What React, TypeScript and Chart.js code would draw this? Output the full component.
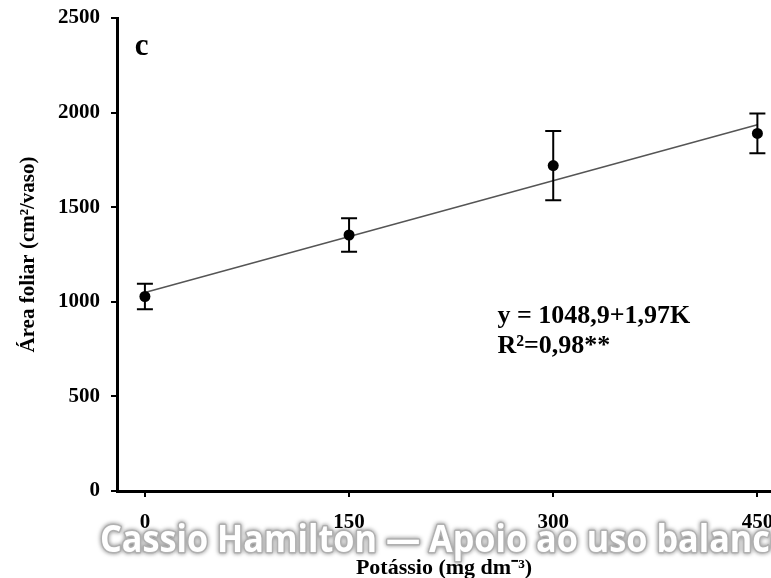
import React, { useEffect, useRef } from "react";
import { Chart, registerables } from "chart.js";

Chart.register(...registerables);

// ---- Data ----
const potassiumDoses = [0, 150, 300, 450];
const leafArea = [1028, 1353, 1720, 1890];
const leafAreaSd = [68, 88, 183, 105];
const xTickValues = [0, 150, 300, 450];
const yTickValues = [0, 500, 1000, 1500, 2000, 2500];
const regIntercept = 1048.9;
const regSlope = 1.97;

// ---- Texts ----
const equationText = "y = 1048,9+1,97K";
const r2Text = "R²=0,98**";
const panelLetter = "c";
const xTitle = "Potássio (mg dm⁻³)";
const yTitle = "Área foliar (cm²/vaso)";
const watermarkText = "Cassio Hamilton — Apoio ao uso balanceado de fertilizantes";

const SERIF = "'Liberation Serif', 'Times New Roman', serif";

const overlayPlugin = {
  id: "overlay",
  afterDatasetsDraw(chart: any) {
    const { ctx } = chart;
    const xs = chart.scales.x;
    const ys = chart.scales.y;
    ctx.save();
    ctx.strokeStyle = "#000";
    ctx.lineWidth = 2;
    potassiumDoses.forEach((d, i) => {
      const px = xs.getPixelForValue(d);
      const top = ys.getPixelForValue(leafArea[i] + leafAreaSd[i]);
      const bot = ys.getPixelForValue(leafArea[i] - leafAreaSd[i]);
      ctx.beginPath();
      ctx.moveTo(px, top);
      ctx.lineTo(px, bot);
      ctx.moveTo(px - 8, top);
      ctx.lineTo(px + 8, top);
      ctx.moveTo(px - 8, bot);
      ctx.lineTo(px + 8, bot);
      ctx.stroke();
    });
    ctx.restore();
  },
  afterDraw(chart: any) {
    const { ctx } = chart;
    const xs = chart.scales.x;
    const ys = chart.scales.y;
    ctx.save();
    ctx.fillStyle = "#000";
    ctx.textAlign = "left";
    ctx.textBaseline = "alphabetic";
    ctx.font = `bold 26px ${SERIF}`;
    ctx.fillText(equationText, xs.getPixelForValue(259), ys.getPixelForValue(888));
    ctx.fillText(r2Text, xs.getPixelForValue(259), ys.getPixelForValue(729));
    ctx.font = `bold 31px ${SERIF}`;
    ctx.fillText(panelLetter, xs.getPixelForValue(-7.4), ys.getPixelForValue(2302));
    ctx.restore();

    // watermark
    ctx.save();
    ctx.font = "bold 37px 'Open Sans', 'DejaVu Sans', sans-serif";
    const w = ctx.measureText("Cassio Hamilton").width;
    const sx = 277 / w;
    ctx.translate(100, 552);
    ctx.scale(sx, 1);
    ctx.lineJoin = "round";
    ctx.shadowColor = "rgba(0,0,0,0.55)";
    ctx.shadowBlur = 4;
    ctx.strokeStyle = "#b0b0b0";
    ctx.lineWidth = 3;
    ctx.strokeText(watermarkText, 0, 0);
    ctx.shadowColor = "transparent";
    ctx.fillStyle = "#fff";
    ctx.fillText(watermarkText, 0, 0);
    ctx.restore();
  },
};

export default function App() {
  const canvasRef = useRef<HTMLCanvasElement>(null);

  useEffect(() => {
    if (!canvasRef.current) return;
    const tickFont = { family: SERIF, size: 21, weight: "bold" as const };
    const titleFont = { family: SERIF, size: 21, weight: "bold" as const };
    const chart = new Chart(canvasRef.current, {
      type: "scatter",
      data: {
        datasets: [
          {
            type: "scatter",
            data: potassiumDoses.map((d, i) => ({ x: d, y: leafArea[i] })),
            pointRadius: 5.5,
            pointHoverRadius: 5.5,
            backgroundColor: "#000",
            borderColor: "#000",
            borderWidth: 0,
            order: 0,
          },
          {
            type: "line",
            data: [
              { x: potassiumDoses[0], y: regIntercept + regSlope * potassiumDoses[0] },
              {
                x: potassiumDoses[potassiumDoses.length - 1],
                y: regIntercept + regSlope * potassiumDoses[potassiumDoses.length - 1],
              },
            ],
            borderColor: "#555",
            borderWidth: 1.5,
            pointRadius: 0,
            fill: false,
            order: 1,
          } as any,
        ],
      },
      options: {
        animation: false,
        responsive: false,
        layout: { autoPadding: false, padding: { top: 18, left: 0, right: 0, bottom: 0 } },
        plugins: {
          legend: { display: false },
          tooltip: { enabled: false },
        },
        scales: {
          x: {
            type: "linear",
            min: -20.5,
            max: 460,
            afterBuildTicks: (s: any) => {
              s.ticks = xTickValues.map((v) => ({ value: v }));
            },
            afterFit: (s: any) => {
              s.height = 87;
              s.paddingLeft = 0;
              s.paddingRight = 0;
            },
            border: { display: true, color: "#000", width: 3 },
            grid: {
              display: true,
              drawOnChartArea: false,
              drawTicks: true,
              tickLength: 6,
              color: "#000",
              lineWidth: 2,
            },
            ticks: {
              color: "#000",
              font: tickFont,
              padding: 13,
              maxRotation: 0,
              autoSkip: false,
              callback: (v: any) => String(v),
            },
            title: {
              display: true,
              text: xTitle,
              color: "#000",
              font: { family: SERIF, size: 22, weight: "bold" as const },
              padding: { top: 0, bottom: -4 },
            },
          },
          y: {
            type: "linear",
            min: 0,
            max: 2500,
            afterBuildTicks: (s: any) => {
              s.ticks = yTickValues.map((v) => ({ value: v }));
            },
            afterFit: (s: any) => {
              s.width = 117;
              s.paddingTop = 0;
              s.paddingBottom = 0;
            },
            border: { display: true, color: "#000", width: 3 },
            grid: {
              display: true,
              drawOnChartArea: false,
              drawTicks: true,
              tickLength: 6,
              color: "#000",
              lineWidth: 2,
            },
            ticks: {
              color: "#000",
              font: tickFont,
              padding: 11,
              autoSkip: false,
              callback: (v: any) => String(v),
            },
            title: {
              display: true,
              text: yTitle,
              color: "#000",
              font: titleFont,
              padding: { top: 16, bottom: 0 },
            },
          },
        },
      },
      plugins: [overlayPlugin],
    });
    return () => chart.destroy();
  }, []);

  return (
    <div
      style={{
        position: "absolute",
        left: 0,
        top: 0,
        width: 771,
        height: 578,
        background: "#fff",
        overflow: "hidden",
      }}
    >
      <canvas ref={canvasRef} width={771} height={578} style={{ display: "block" }} />
    </div>
  );
}
